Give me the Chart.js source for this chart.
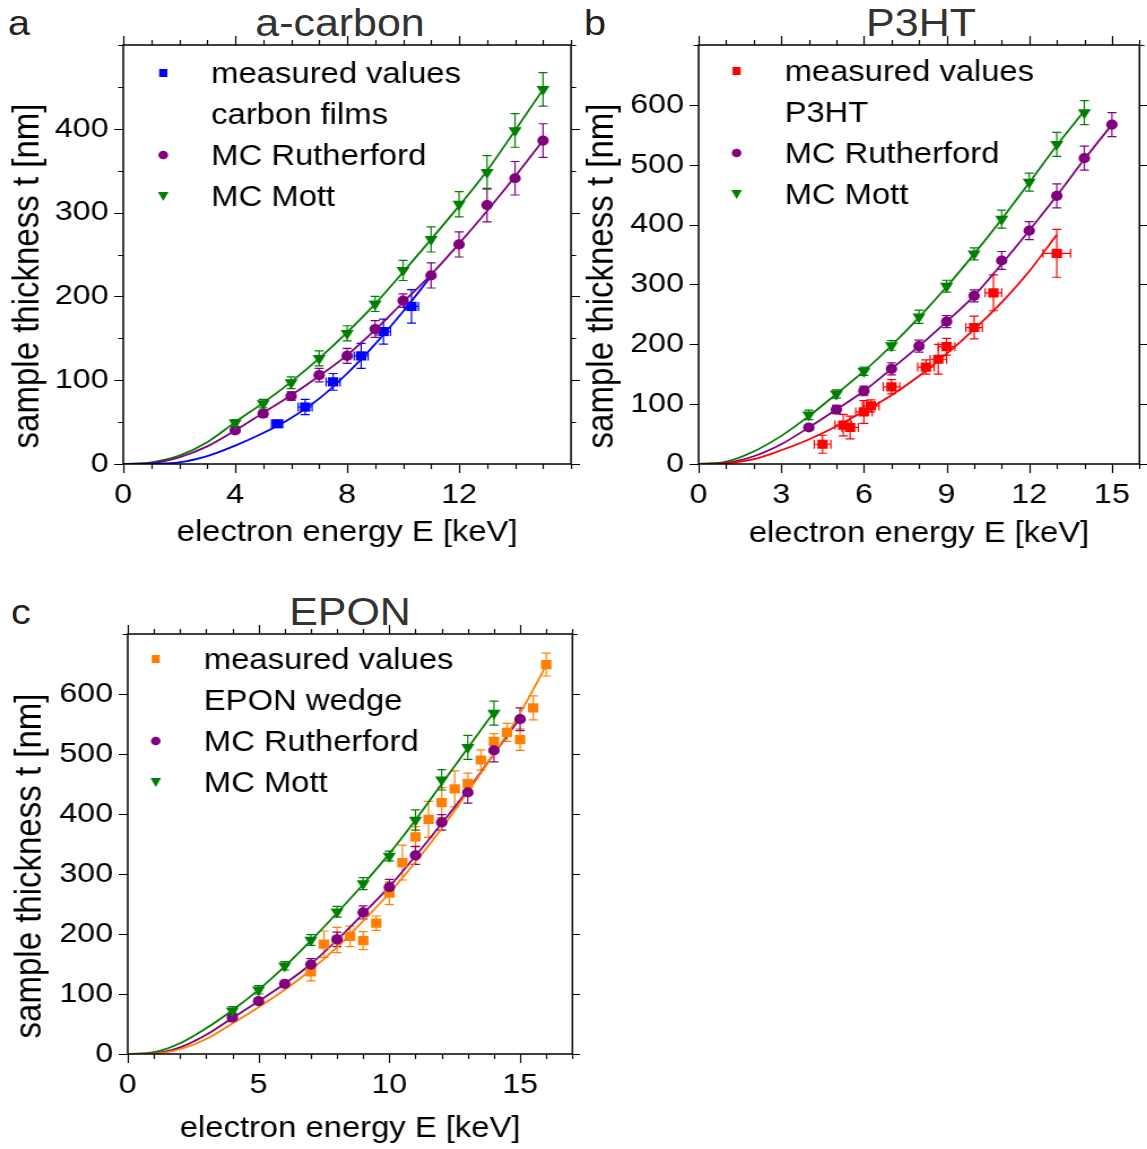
<!DOCTYPE html>
<html><head><meta charset="utf-8">
<script src="https://cdn.jsdelivr.net/npm/chart.js@4/dist/chart.umd.min.js"></script>
<style>
html,body{margin:0;padding:0;background:#fff;}
body{width:1147px;height:1149px;position:relative;overflow:hidden;font-family:"Liberation Sans",Arial,sans-serif;}
canvas{position:absolute;}
.lbl{position:absolute;font-size:35px;color:#222;line-height:1;white-space:nowrap;transform-origin:0 0;transform:scaleX(1.13);}
.ttl{position:absolute;font-size:38px;color:#333;line-height:1;white-space:nowrap;transform:translateX(-50%) scaleX(1.13);}
</style></head><body>
<div class="lbl" style="left:8px;top:5px">a</div>
<div class="ttl" style="left:340px;top:4px">a-carbon</div>
<div class="lbl" style="left:584px;top:5px">b</div>
<div class="ttl" style="left:921px;top:4px">P3HT</div>
<div class="lbl" style="left:11px;top:594px">c</div>
<div class="ttl" style="left:350px;top:593px">EPON</div>
<canvas id="ca"></canvas>
<canvas id="cb"></canvas>
<canvas id="cc"></canvas>
<script>
// ---------- Panel a: a-carbon ----------
const aMeasE    = [5.5, 6.5, 7.5, 8.5, 9.3, 10.3];
const aMeasT    = [48, 68, 98, 129, 158, 188];
const aMeasErrT = [3, 9, 10, 15, 15, 20];
const aMeasErrE = [0.2, 0.25, 0.25, 0.25, 0.25, 0.25];
const aMcE      = [4, 5, 6, 7, 8, 9, 10, 11, 12, 13, 14, 15];
const aRuthT    = [40, 60, 81, 106, 129, 161, 195, 225, 262, 309, 341, 386];
const aRuthErr  = [3, 4, 5, 8, 9, 10, 8, 15, 15, 20, 20, 20];
const aMottT    = [49, 72, 97, 126, 156, 191, 231, 268, 310, 348, 398, 447];
const aMottErr  = [4, 5, 7, 9, 9, 9, 12, 15, 15, 20, 20, 20];
const aFitE     = [0, 1, 2, 3, 4, 5, 6, 7, 8, 9, 10, 11, 12, 13, 14, 15];
const aFitMott  = [0, 2, 10, 26, 50, 73, 98, 126, 157, 191, 229, 268, 308, 350, 398, 447];
const aFitRuth  = [0, 1, 8, 21, 40, 61, 82, 105, 130, 160, 193, 226, 263, 302, 343, 386];
const aFitMeasE = [0, 1, 2, 3, 4, 5, 6, 7, 8, 9, 10, 11];
const aFitMeas  = [0, 0.5, 2, 9.5, 22, 37, 55, 78, 108, 143, 182, 224];
const aXTickLabels = [0, 4, 8, 12];
const aYTickLabels = [0, 100, 200, 300, 400];

// ---------- Panel b: P3HT ----------
const bMeasE    = [4.5, 5.25, 5.5, 6, 6.25, 7, 8.25, 8.7, 9, 10, 10.7, 13];
const bMeasT    = [33, 65, 61, 87, 97, 129, 162, 175, 196, 228, 286, 352];
const bMeasErrT = [15, 18, 19, 19, 10, 12, 12, 25, 14, 19, 30, 40];
const bMeasErrE = [0.3, 0.3, 0.3, 0.3, 0.3, 0.3, 0.3, 0.3, 0.3, 0.3, 0.3, 0.5];
const bMottE    = [4, 5, 6, 7, 8, 9, 10, 11, 12, 13, 14];
const bMottT    = [82, 117, 155, 198, 246, 297, 351, 409, 471, 534, 587];
const bMottErr  = [8, 7, 7, 8, 11, 10, 10, 15, 15, 20, 20];
const bRuthE    = [4, 5, 6, 7, 8, 9, 10, 11, 12, 13, 14, 15];
const bRuthT    = [61, 91, 122, 159, 197, 238, 281, 340, 390, 448, 511, 567];
const bRuthErr  = [5, 7, 8, 10, 10, 10, 10, 15, 15, 20, 20, 20];
const bFitMottE = [0, 1, 2, 3, 4, 5, 6, 7, 8, 9, 10, 11, 12, 13, 14];
const bFitMott  = [0, 4, 21, 47, 80, 117, 155, 198, 245, 296, 351, 409, 470, 532, 590];
const bFitRuthE = [0, 1, 2, 3, 4, 5, 6, 7, 8, 9, 10, 11, 12, 13, 14, 15];
const bFitRuth  = [0, 2, 13, 33, 61, 91, 122, 159, 197, 238, 281, 334, 390, 448, 509, 567];
const bFitMeasE = [0, 1, 2, 3, 4, 5, 6, 7, 8, 9, 10, 11, 12, 13];
const bFitMeas  = [0, 1, 8, 23, 41, 63, 88, 115, 147, 184, 225, 270, 322, 383];
const bXTickLabels = [0, 3, 6, 9, 12, 15];
const bYTickLabels = [0, 100, 200, 300, 400, 500, 600];

// ---------- Panel c: EPON ----------
const cMeasE    = [7, 7.5, 8, 8.5, 9, 9.5, 10, 10.5, 11, 11.5, 12, 12.5, 13, 13.5, 14, 14.5, 15, 15.5, 16];
const cMeasT    = [137, 183, 190, 196, 189, 218, 268, 319, 362, 391, 419, 442, 451, 490, 521, 536, 524, 577, 649];
const cMeasErrT = [15, 22, 21, 17, 15, 12, 19, 29, 17, 30, 25, 30, 17, 17, 13, 15, 18, 20, 19];
const cMottE    = [4, 5, 6, 7, 8, 9, 10, 11, 12, 13, 14];
const cMottT    = [72, 107, 147, 190, 237, 284, 330, 390, 457, 511, 568];
const cMottErr  = [7, 7, 7, 9, 9, 10, 8, 17, 17, 20, 20];
const cRuthE    = [4, 5, 6, 7, 8, 9, 10, 11, 12, 13, 14, 15];
const cRuthT    = [61, 88, 117, 149, 191, 236, 278, 331, 386, 436, 506, 558];
const cRuthErr  = [7, 5, 5, 10, 12, 11, 13, 15, 13, 18, 19, 19];
const cFitMottE = [0, 1, 2, 3, 4, 5, 6, 7, 8, 9, 10, 11, 12, 13, 14];
const cFitMott  = [0, 3, 18, 43, 73, 107, 146, 189, 235, 283, 334, 390, 450, 510, 570];
const cFitRuthE = [0, 1, 2, 3, 4, 5, 6, 7, 8, 9, 10, 11, 12, 13, 14, 15];
const cFitRuth  = [0, 1, 11, 32, 60, 88, 117, 150, 190, 234, 279, 330, 384, 440, 500, 560];
const cFitMeasE = [0, 1, 2, 3, 4, 5, 6, 7, 8, 9, 10, 11, 12, 13, 14, 15, 16];
const cFitMeas  = [0, 0.5, 8, 25, 51, 78, 107, 140, 178, 222, 268, 320, 376, 437, 500, 568, 648];
const cXTickLabels = [0, 5, 10, 15];
const cYTickLabels = [0, 100, 200, 300, 400, 500, 600];

// ---------- styling ----------
const FONT = '"Liberation Sans", Arial, Helvetica, sans-serif';
const STRETCH = 1.13;   // the figure is slightly wider than tall in its glyphs
const C_BLUE = '#0000ff', C_RED = '#ff0000', C_ORANGE = '#ff8000', C_PURPLE = '#800080', C_GREEN = '#008000';
const X_TITLE = 'electron energy E [keV]';
const Y_TITLE = 'sample thickness t [nm]';

function pts(xs, ys) { return xs.map((x, i) => ({x: x, y: ys[i]})); }

function measSet(lines, E, T, errT, errE, color) {
  return {label: lines.join(' '), legendLines: lines, legendMarker: 'square', data: pts(E, T),
    errY: errT, errX: errE, errColor: color, pointStyle: 'rect', pointRadius: 6.5, pointHoverRadius: 6.5,
    pointBackgroundColor: color, pointBorderWidth: 0, borderColor: color, backgroundColor: color, showLine: false, order: 3};
}
function ruthSet(E, T, err) {
  return {label: 'MC Rutherford', legendLines: ['MC Rutherford'], legendMarker: 'circle', data: pts(E, T),
    errY: err, errColor: C_PURPLE, pointStyle: 'circle', pointRadius: 5.1, pointHoverRadius: 5.1,
    pointBackgroundColor: C_PURPLE, pointBorderWidth: 0, borderColor: C_PURPLE, backgroundColor: C_PURPLE, showLine: false, order: 2};
}
function mottSet(E, T, err) {
  return {label: 'MC Mott', legendLines: ['MC Mott'], legendMarker: 'triangle', data: pts(E, T),
    errY: err, errColor: C_GREEN, pointStyle: 'triangle', rotation: 180, pointRotation: 180, pointRadius: 6.7, pointHoverRadius: 6.7,
    pointBackgroundColor: C_GREEN, pointBorderWidth: 0, borderColor: C_GREEN, backgroundColor: C_GREEN, showLine: false, order: 1};
}
function fitSet(E, T, color) {
  return {label: 'fit', data: pts(E, T), showLine: true, pointRadius: 0, pointHoverRadius: 0,
    borderColor: color, backgroundColor: color, borderWidth: 1.8, cubicInterpolationMode: 'monotone', fill: false, order: 10};
}

const errorBars = {
  id: 'errorBars',
  beforeDatasetsDraw(chart) {
    const ctx = chart.ctx, xs = chart.scales.x, ys = chart.scales.y;
    ctx.save();
    ctx.lineWidth = 1.2;
    chart.data.datasets.forEach(ds => {
      if (!ds.errY && !ds.errX) return;
      ctx.strokeStyle = ds.errColor;
      ds.data.forEach((p, j) => {
        const px = xs.getPixelForValue(p.x), py = ys.getPixelForValue(p.y);
        ctx.beginPath();
        if (ds.errY) {
          const y1 = ys.getPixelForValue(p.y + ds.errY[j]), y2 = ys.getPixelForValue(p.y - ds.errY[j]);
          ctx.moveTo(px, y1); ctx.lineTo(px, y2);
          ctx.moveTo(px - 4, y1); ctx.lineTo(px + 4, y1);
          ctx.moveTo(px - 4, y2); ctx.lineTo(px + 4, y2);
        }
        if (ds.errX) {
          const x1 = xs.getPixelForValue(p.x - ds.errX[j]), x2 = xs.getPixelForValue(p.x + ds.errX[j]);
          ctx.moveTo(x1, py); ctx.lineTo(x2, py);
          ctx.moveTo(x1, py - 4.5); ctx.lineTo(x1, py + 4.5);
          ctx.moveTo(x2, py - 4.5); ctx.lineTo(x2, py + 4.5);
        }
        ctx.stroke();
      });
    });
    ctx.restore();
  }
};

const frameTicks = {
  id: 'frameTicks',
  afterDraw(chart, args, o) {
    const ctx = chart.ctx, ca = chart.chartArea, xs = chart.scales.x, ys = chart.scales.y;
    ctx.save();
    ctx.strokeStyle = '#000';
    ctx.lineWidth = 1.2;
    ctx.beginPath();
    xs.ticks.forEach(t => {
      const px = Math.round(xs.getPixelForValue(t.value)) + 0.5;
      const len = o.xLab.includes(t.value) ? 9 : 5;
      ctx.moveTo(px, ca.bottom); ctx.lineTo(px, ca.bottom + len);
      ctx.moveTo(px, ca.top); ctx.lineTo(px, ca.top - len);
    });
    ys.ticks.forEach(t => {
      const py = Math.round(ys.getPixelForValue(t.value)) + 0.5;
      const len = o.yLab.includes(t.value) ? 8 : 4.5;
      ctx.moveTo(ca.left, py); ctx.lineTo(ca.left - len, py);
      ctx.moveTo(ca.right, py); ctx.lineTo(ca.right + len, py);
    });
    ctx.stroke();
    ctx.lineWidth = 1.5;
    ctx.strokeRect(ca.left, ca.top, ca.right - ca.left, ca.bottom - ca.top);
    // vertical axis title
    ctx.fillStyle = '#000';
    ctx.font = '33px ' + FONT;
    ctx.textAlign = 'center';
    ctx.textBaseline = 'middle';
    ctx.translate(o.yTitleX, o.yTitleY);
    ctx.rotate(-Math.PI / 2);
    ctx.fillText(Y_TITLE, 0, 0);
    ctx.restore();
  }
};

function drawMarker(ctx, kind, color, x, y) {
  ctx.fillStyle = color;
  ctx.beginPath();
  if (kind === 'square') { ctx.rect(x - 3.6, y - 4, 7.2, 8); }
  else if (kind === 'circle') { ctx.arc(x, y, 4.3, 0, Math.PI * 2); }
  else { ctx.moveTo(x - 4.7, y - 4); ctx.lineTo(x + 4.7, y - 4); ctx.lineTo(x, y + 5); ctx.closePath(); }
  ctx.fill();
}

const boxLegend = {
  id: 'boxLegend',
  afterDatasetsDraw(chart, args, o) {
    const ctx = chart.ctx, ca = chart.chartArea;
    ctx.save();
    ctx.font = '29px ' + FONT;
    ctx.textBaseline = 'middle';
    ctx.textAlign = 'left';
    let row = 0;
    chart.data.datasets.forEach(ds => {
      if (!ds.legendLines) return;
      const y = ca.top + o.y + row * o.dy;
      drawMarker(ctx, ds.legendMarker, ds.pointBackgroundColor, ca.left + o.mx, y);
      ctx.fillStyle = '#000';
      ds.legendLines.forEach((t, k) => ctx.fillText(t, ca.left + o.tx, y + 2 + k * o.dy));
      row += ds.legendLines.length;
    });
    ctx.restore();
  }
};

function makeScales(p) {
  return {
    x: {
      type: 'linear', min: p.xMin, max: p.xMax,
      afterFit: s => { s.height = p.xH; },
      ticks: {stepSize: 1, autoSkip: false, maxRotation: 0, minRotation: 0, padding: 5, color: '#000',
        font: {size: 28.5, family: FONT}, callback: v => p.xLab.includes(v) ? String(v) : ''},
      grid: {display: true, drawOnChartArea: false, drawTicks: true, tickLength: 9, tickColor: 'rgba(0,0,0,0)', color: 'rgba(0,0,0,0)'},
      border: {display: false},
      title: {display: true, text: X_TITLE, color: '#000', font: {size: 29, family: FONT},
        padding: {top: 0, bottom: p.xTitlePad}}
    },
    y: {
      type: 'linear', min: p.yMin, max: p.yMax,
      afterFit: s => { s.width = p.yW; },
      ticks: {stepSize: p.yStep, autoSkip: false, padding: 5, color: '#000',
        font: {size: 28.5, family: FONT}, callback: v => p.yLab.includes(v) ? String(v) : ''},
      grid: {display: true, drawOnChartArea: false, drawTicks: true, tickLength: 8, tickColor: 'rgba(0,0,0,0)', color: 'rgba(0,0,0,0)'},
      border: {display: false},
      title: {display: false}
    }
  };
}

// p.box: page geometry of the canvas and of the plot frame (in page pixels)
function makeChart(id, datasets, p) {
  const b = p.box;
  const cv = document.getElementById(id);
  const w = Math.round(b.cssW / STRETCH);
  const s = b.cssW / w;
  cv.width = w; cv.height = b.cssH;
  cv.style.left = b.cssLeft + 'px'; cv.style.top = b.cssTop + 'px';
  cv.style.width = b.cssW + 'px'; cv.style.height = b.cssH + 'px';
  p.yW = Math.round((b.frameL - b.cssLeft) / s);
  const padR = Math.max(0, w - (b.frameR - b.cssLeft) / s);
  p.xH = b.cssH - b.padB - (b.frameB - b.cssTop);
  return new Chart(cv, {
    type: 'scatter',
    data: {datasets: datasets},
    options: {
      responsive: false, animation: false, devicePixelRatio: 1,
      layout: {padding: {left: 0, top: b.frameT - b.cssTop, right: padR, bottom: b.padB}},
      scales: makeScales(p),
      plugins: {
        legend: {display: false}, tooltip: {enabled: false}, title: {display: false},
        frameTicks: {xLab: p.xLab, yLab: p.yLab, yTitleX: (b.yTitleX - b.cssLeft) / s, yTitleY: b.yTitleY - b.cssTop},
        boxLegend: {mx: p.leg.mx / s, tx: p.leg.tx / s, y: p.leg.y, dy: p.leg.dy}
      }
    },
    plugins: [errorBars, frameTicks, boxLegend]
  });
}

makeChart('ca', [
  measSet(['measured values', 'carbon films'], aMeasE, aMeasT, aMeasErrT, aMeasErrE, C_BLUE),
  ruthSet(aMcE, aRuthT, aRuthErr),
  mottSet(aMcE, aMottT, aMottErr),
  fitSet(aFitMeasE, aFitMeas, C_BLUE),
  fitSet(aFitE, aFitRuth, C_PURPLE),
  fitSet(aFitE, aFitMott, C_GREEN)
], {xMin: 0, xMax: 16, yMin: 0, yMax: 500, yStep: 50, xLab: aXTickLabels, yLab: aYTickLabels, xTitlePad: 6,
    box: {cssLeft: 0, cssTop: 0, cssW: 580, cssH: 560, frameL: 123, frameR: 571, frameT: 45, frameB: 464, padB: 4,
          yTitleX: 28, yTitleY: 276},
    leg: {mx: 40, tx: 88, y: 28, dy: 41}});

makeChart('cb', [
  measSet(['measured values', 'P3HT'], bMeasE, bMeasT, bMeasErrT, bMeasErrE, C_RED),
  ruthSet(bRuthE, bRuthT, bRuthErr),
  mottSet(bMottE, bMottT, bMottErr),
  fitSet(bFitMeasE, bFitMeas, C_RED),
  fitSet(bFitRuthE, bFitRuth, C_PURPLE),
  fitSet(bFitMottE, bFitMott, C_GREEN)
], {xMin: 0, xMax: 16, yMin: 0, yMax: 700, yStep: 100, xLab: bXTickLabels, yLab: bYTickLabels, xTitlePad: 5,
    box: {cssLeft: 580, cssTop: 0, cssW: 567, cssH: 560, frameL: 699, frameR: 1146, frameT: 45, frameB: 464, padB: 4,
          yTitleX: 602, yTitleY: 276},
    leg: {mx: 38, tx: 86, y: 26, dy: 41}});

makeChart('cc', [
  measSet(['measured values', 'EPON wedge'], cMeasE, cMeasT, cMeasErrT, null, C_ORANGE),
  ruthSet(cRuthE, cRuthT, cRuthErr),
  mottSet(cMottE, cMottT, cMottErr),
  fitSet(cFitMeasE, cFitMeas, C_ORANGE),
  fitSet(cFitRuthE, cFitRuth, C_PURPLE),
  fitSet(cFitMottE, cFitMott, C_GREEN)
], {xMin: 0, xMax: 17, yMin: 0, yMax: 700, yStep: 100, xLab: cXTickLabels, yLab: cYTickLabels, xTitlePad: 2,
    box: {cssLeft: 0, cssTop: 560, cssW: 580, cssH: 589, frameL: 128, frameR: 577, frameT: 634, frameB: 1054, padB: 1,
          yTitleX: 30, yTitleY: 866},
    leg: {mx: 28, tx: 76, y: 25, dy: 41}});
</script>
</body></html>
